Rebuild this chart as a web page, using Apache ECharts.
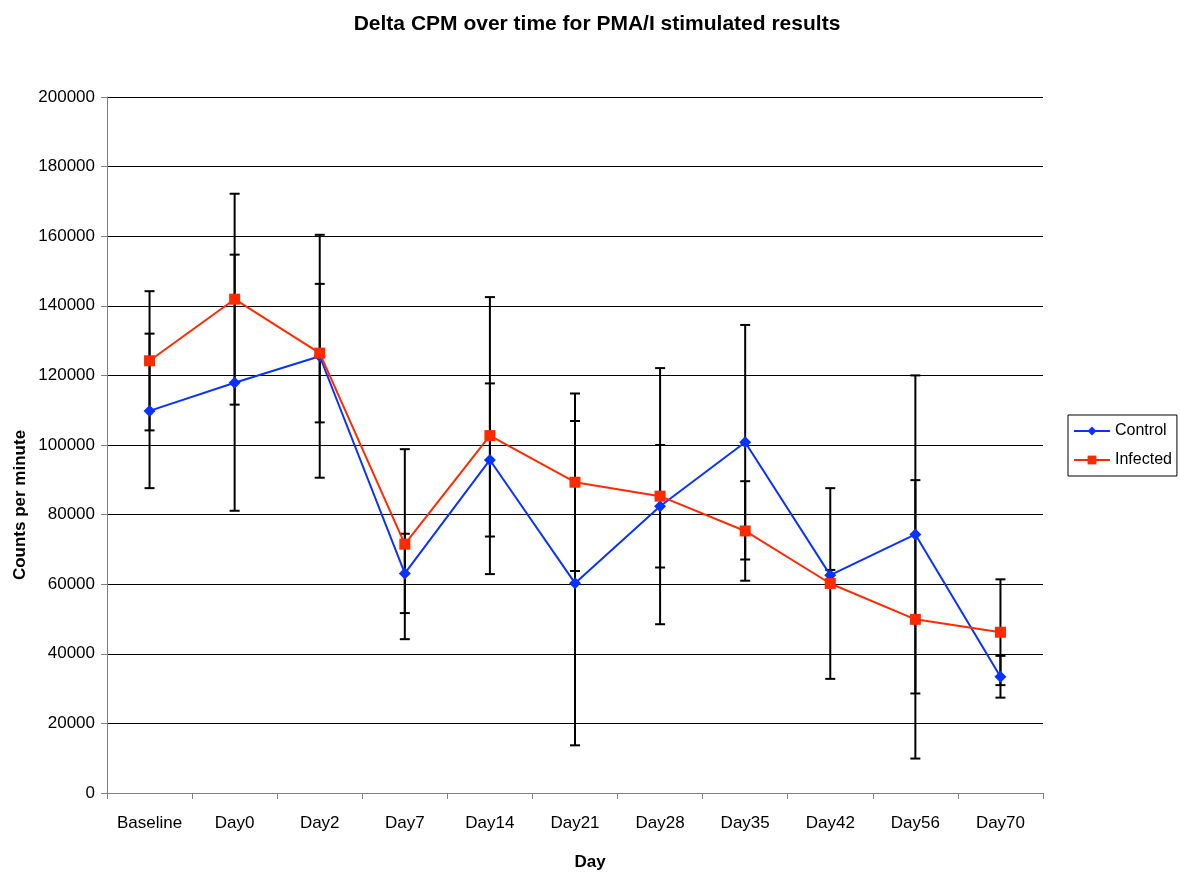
<!DOCTYPE html>
<html>
<head>
<meta charset="utf-8">
<script src="https://cdn.jsdelivr.net/npm/echarts@6/dist/echarts.min.js"></script>
<style>
  html, body { margin: 0; padding: 0; background: #fff; }
  #chart { width: 1180px; height: 875px; }
</style>
</head>
<body>
<div id="chart"></div>
<script>
const days = ['Baseline', 'Day0', 'Day2', 'Day7', 'Day14', 'Day21', 'Day28', 'Day35', 'Day42', 'Day56', 'Day70'];

// mean counts per minute
const controlMean = [109800, 117900, 125500, 63100, 95700, 60300, 82400, 100800, 62600, 74300, 33400];
const infectedMean = [124200, 141900, 126400, 71500, 102700, 89300, 85300, 75300, 60200, 49900, 46200];

// error bar half-widths
const controlErr = [22200, 36800, 34900, 11400, 22000, 46600, 17600, 33700, 1500, 45700, 6000];
const infectedErr = [20000, 30300, 19900, 27300, 39800, 25500, 36800, 14300, 27400, 40000, 15200];

const font = 'Liberation Sans, Arial, sans-serif';

// build [index, low, high] rows for the custom error bar series
function errRows(mean, err) {
    return mean.map((m, i) => [i, m - err[i], m + err[i]]);
}

function renderErrorBar(params, api) {
    const low = api.coord([api.value(0), api.value(1)]);
    const high = api.coord([api.value(0), api.value(2)]);
    const half = 5;
    const style = { stroke: '#000', lineWidth: 2 };
    return {
        type: 'group',
        children: [
            { type: 'line', shape: { x1: high[0], y1: high[1], x2: low[0], y2: low[1] }, style },
            { type: 'line', shape: { x1: high[0] - half, y1: high[1], x2: high[0] + half, y2: high[1] }, style },
            { type: 'line', shape: { x1: low[0] - half, y1: low[1], x2: low[0] + half, y2: low[1] }, style }
        ]
    };
}

const chart = echarts.init(document.getElementById('chart'));

const option = {
    animation: false,
    backgroundColor: '#fff',
    title: {
        text: 'Delta CPM over time for PMA/I stimulated results',
        left: 592,
        top: 9,
        textAlign: 'center',
        textStyle: { fontFamily: font, fontSize: 21, fontWeight: 'bold', color: '#000' }
    },
    graphic: [
        {
            type: 'text',
            x: 590,
            y: 862,
            style: {
                text: 'Day',
                fontFamily: font, fontSize: 17, fontWeight: 'bold', fill: '#000',
                align: 'center', verticalAlign: 'middle'
            }
        },
        {
            type: 'text',
            x: 20,
            y: 505,
            rotation: Math.PI / 2,
            style: {
                text: 'Counts per minute',
                fontFamily: font, fontSize: 17, fontWeight: 'bold', fill: '#000',
                align: 'center', verticalAlign: 'middle'
            }
        }
    ],
    legend: {
        orient: 'vertical',
        left: 1068,
        top: 415,
        padding: [8, 5, 8, 5],
        itemGap: 13,
        itemWidth: 36,
        itemHeight: 11,
        borderColor: '#000',
        borderWidth: 1,
        borderRadius: 0,
        textStyle: { fontFamily: font, fontSize: 16, color: '#000' },
        data: ['Control', 'Infected']
    },
    grid: { left: 107, right: 137, top: 97, bottom: 82 },
    xAxis: {
        type: 'category',
        data: days,
        boundaryGap: true,
        axisLine: { lineStyle: { color: '#808080', width: 1 } },
        axisTick: { show: true, length: 6, lineStyle: { color: '#808080' } },
        axisLabel: { fontFamily: font, fontSize: 17, color: '#000', margin: 22, interval: 0 },
        splitLine: { show: false }
    },
    yAxis: {
        type: 'value',
        min: 0,
        max: 200000,
        interval: 20000,
        axisLine: { show: true, lineStyle: { color: '#808080', width: 1 } },
        axisTick: { show: true, length: 6, lineStyle: { color: '#808080' } },
        axisLabel: { fontFamily: font, fontSize: 17, color: '#000', margin: 12, formatter: v => String(v) },
        splitLine: { show: true, lineStyle: { color: '#000', width: 1 } }
    },
    series: [
        {
            name: 'Control err',
            type: 'custom',
            renderItem: renderErrorBar,
            data: errRows(controlMean, controlErr),
            encode: { x: 0, y: [1, 2] },
            z: 2,
            silent: true
        },
        {
            name: 'Infected err',
            type: 'custom',
            renderItem: renderErrorBar,
            data: errRows(infectedMean, infectedErr),
            encode: { x: 0, y: [1, 2] },
            z: 2,
            silent: true
        },
        {
            name: 'Control',
            type: 'line',
            data: controlMean,
            symbol: 'diamond',
            symbolSize: 12,
            lineStyle: { color: '#0a32ff', width: 2 },
            itemStyle: { color: '#0a32ff' },
            z: 3
        },
        {
            name: 'Infected',
            type: 'line',
            data: infectedMean,
            symbol: 'rect',
            symbolSize: 11,
            lineStyle: { color: '#ff2a00', width: 2 },
            itemStyle: { color: '#ff2a00' },
            z: 4
        }
    ]
};

chart.setOption(option);
</script>
</body>
</html>
